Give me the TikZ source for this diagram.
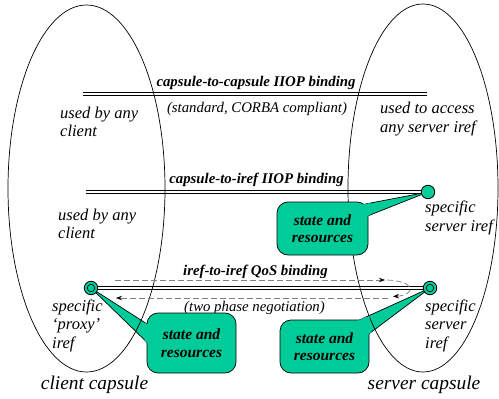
\documentclass[tikz,border=0pt]{standalone}
\usepackage{fontspec}
\setmainfont{Liberation Serif}
\usetikzlibrary{arrows.meta}
\definecolor{callgreen}{RGB}{0,204,153}

\begin{document}
\begin{tikzpicture}[x=1pt,y=-1pt,
  capsule/.style={draw=black,line width=0.7pt},
  railtop/.style={draw=black,line width=1pt},
  railbot/.style={draw=black,line width=0.8pt},
  negotiation/.style={draw=gray,line width=0.7pt,dash pattern=on 6pt off 3pt,
    -{Stealth[length=6pt,width=4.5pt,black]}},
  sidelbl/.style={font=\fontsize{16.5}{18.5}\selectfont\itshape,align=left,anchor=west,inner sep=0pt},
  bindlbl/.style={font=\fontsize{14.8}{17}\selectfont\bfseries\itshape,inner sep=0pt},
  notelbl/.style={font=\fontsize{14.8}{17}\selectfont\itshape,inner sep=0pt},
  capname/.style={font=\fontsize{19.4}{22}\selectfont\itshape,inner sep=0pt},
  irefdot/.style={circle,draw=black,fill=callgreen,line width=0.8pt,minimum size=13.5pt,inner sep=0pt},
  innerdot/.style={circle,draw=black,fill=callgreen,line width=0.7pt,minimum size=7.5pt,inner sep=0pt},
  stateres/.style={draw=black,fill=callgreen,line width=0.7pt,rounded corners=11pt,
    align=center,inner sep=0pt,font=\fontsize{15.5}{17.5}\selectfont\bfseries\itshape},
  wedge/.style={draw=black,fill=callgreen,line width=0.7pt,line join=round}
]
% page and background
\fill[white] (0,0) rectangle (499,399);
\useasboundingbox (0,0) rectangle (499,399);

% the two capsules
\draw[capsule] (86.5,188.5) ellipse [x radius=78.5, y radius=183.5];
\draw[capsule] (423,188) ellipse [x radius=75, y radius=184];

% anchor points of the irefs
\coordinate (srv1) at (428,192);
\coordinate (prx)  at (91,288);
\coordinate (srv2) at (430,288);
\coordinate (b1l)  at (83,94);
\coordinate (b1r)  at (427,94);
\coordinate (b2l)  at (86,192);

% bindings, each drawn as a pair of rails
\draw[railtop] ([yshift=1.3pt]b1l) -- ([yshift=1.3pt]b1r);
\draw[railbot] ([yshift=-1.2pt]b1l) -- ([yshift=-1.2pt]b1r);
\draw[railtop] ([yshift=1.3pt]b2l) -- ([yshift=1.3pt]srv1);
\draw[railbot] ([yshift=-1.2pt]b2l) -- ([yshift=-1.2pt]srv1);
\draw[railtop] ([yshift=1.3pt]prx) -- ([yshift=1.3pt]srv2);
\draw[railbot] ([yshift=-1.2pt]prx) -- ([yshift=-1.2pt]srv2);

\node[bindlbl] (lb1) at (256,83) {capsule-to-capsule IIOP binding};
\node[notelbl] (lb1n) at (257,108.5) {(standard, CORBA compliant)};
\node[bindlbl] (lb2) at (256.5,180) {capsule-to-iref IIOP binding};
\node[bindlbl] (lb3) at (255.5,271.5) {iref-to-iref QoS binding};
\node[notelbl] (lb3n) at (254.5,308) {(two phase negotiation)};

% two phase negotiation arrows
\coordinate (ng1) at (115,280);
\coordinate (ng2) at (385,280);
\coordinate (ng3) at (387,280);
\coordinate (ng4) at (393,296.5);
\coordinate (ng5) at (388,298);
\coordinate (ng6) at (116,298);
\draw[negotiation] (ng1) -- (ng2);
\draw[negotiation] (ng3) .. controls (416,281) and (416,295) .. (ng4);
\draw[negotiation] (ng5) -- (ng6);

% side texts
\node[sidelbl] (t1) at (60,122) {used by any\\client};
\node[sidelbl] (t2) at (380,119) {used to access\\any server iref};
\node[sidelbl] (t3) at (58,224) {used by any\\client};
\node[sidelbl] (t4) at (425,218) {specific\\server iref};
\node[sidelbl] (t5) at (52,325.5) {specific\\‘proxy’\\iref};
\node[sidelbl] (t6) at (425,325.5) {specific\\server\\iref};

\node[capname] (cc) at (94.5,385) {client capsule};
\node[capname] (sc) at (424,385) {server capsule};

% callouts: pointer wedge, box, then wedge refilled to open the box edge
\coordinate (w1a) at (355,206);
\coordinate (w1b) at (360,219);
\coordinate (w2a) at (158,331);
\coordinate (w2b) at (157,352);
\coordinate (w3a) at (345,326.5);
\coordinate (w3b) at (362,339);

\draw[wedge] (srv1) -- (w1a) -- (w1b) -- cycle;
\draw[wedge] (prx) -- (w2a) -- (w2b) -- cycle;
\draw[wedge] (srv2) -- (w3a) -- (w3b) -- cycle;

\node[stateres,minimum width=91pt,minimum height=53pt] (s1) at (322.5,228.5) {state and\\resources};
\node[stateres,minimum width=89pt,minimum height=60pt] (s2) at (191.5,343) {state and\\resources};
\node[stateres,minimum width=89pt,minimum height=53pt] (s3) at (324.5,346.5) {state and\\resources};

\begin{scope}
  \clip (s1.south west) rectangle ([shift={(2,-2)}]s1.north east);
  \fill[callgreen] (srv1) -- (w1a) -- (w1b) -- cycle;
\end{scope}
\begin{scope}
  \clip ([shift={(-2,0)}]s2.south west) rectangle ([shift={(0,-2)}]s2.north east);
  \fill[callgreen] (prx) -- (w2a) -- (w2b) -- cycle;
\end{scope}
\begin{scope}
  \clip (s3.south west) rectangle ([shift={(2,-2)}]s3.north east);
  \fill[callgreen] (srv2) -- (w3a) -- (w3b) -- cycle;
\end{scope}

% capsule outlines stay visible across the pointer wedges
\begin{scope}
  \clip (prx) -- (w2a) -- (w2b) -- cycle;
  \draw[capsule] (86.5,188.5) ellipse [x radius=78.5, y radius=183.5];
\end{scope}
\begin{scope}
  \clip (srv2) -- (w3a) -- (w3b) -- cycle;
  \clip (369.5,0) rectangle (499,399);
  \draw[capsule] (423,188) ellipse [x radius=75, y radius=184];
\end{scope}

% iref end points
\node[irefdot] (d1) at (srv1) {};
\node[irefdot] (d2) at (prx) {};
\node[innerdot] (d2i) at (prx) {};
\node[irefdot] (d3) at (srv2) {};
\node[innerdot] (d3i) at (srv2) {};
\end{tikzpicture}
\end{document}
